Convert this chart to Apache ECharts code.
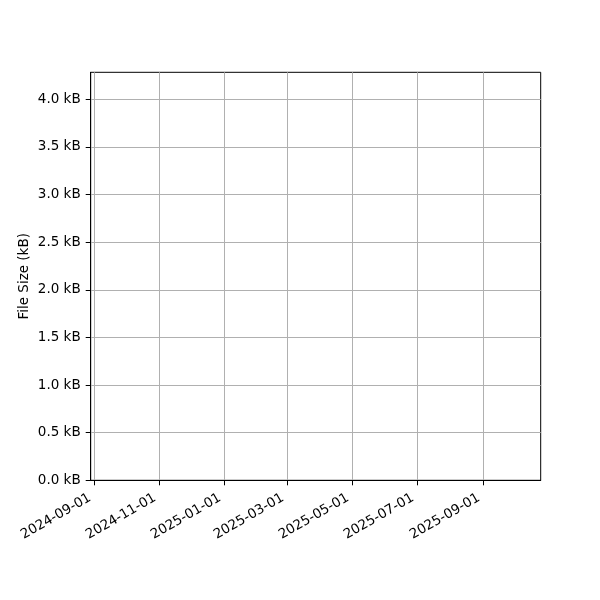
<!DOCTYPE html>
<html>
<head>
<meta charset="utf-8">
<script src="https://cdn.jsdelivr.net/npm/echarts@6/dist/echarts.min.js"></script>
<style>html,body{margin:0;padding:0;background:#fff}#c{width:600px;height:600px}</style>
</head>
<body>
<div id="c"></div>
<script>
// Data (the reference plot shows no marks)
const dates = [];
const fileSizesKB = [];
// Axis ticks
const xTickLabels = ['2024-09-01','2024-11-01','2025-01-01','2025-03-01','2025-05-01','2025-07-01','2025-09-01'];
const yTickValues = [0, 0.5, 1.0, 1.5, 2.0, 2.5, 3.0, 3.5, 4.0];
const xRange = ['2024-08-28T14:00:00Z', '2025-10-24T22:00:00Z'];
const yRange = [0, 4.283];

const toTs = s => Date.parse(s.length === 10 ? s + 'T00:00:00Z' : s);
const xTicks = xTickLabels.map(toTs);
const pad = n => (n < 10 ? '0' : '') + n;
const fmtDate = v => { const d = new Date(v); return d.getUTCFullYear() + '-' + pad(d.getUTCMonth() + 1) + '-' + pad(d.getUTCDate()); };

const font = 'DejaVu Sans';
const fs = 13.5;
const chart = echarts.init(document.getElementById('c'), null, {renderer: 'canvas'});
chart.setOption({
  animation: false,
  backgroundColor: '#fff',
  grid: {left: 90.7, top: 72.3, right: 59.3, bottom: 119.7, show: true, borderColor: '#000', borderWidth: 1, backgroundColor: 'transparent', outerBoundsMode: 'none', containLabel: false},
  xAxis: {
    type: 'value', min: toTs(xRange[0]), max: toTs(xRange[1]),
    axisLine: {show: true, onZero: false, lineStyle: {color: '#000', width: 1}},
    axisTick: {show: true, length: 5, customValues: xTicks, lineStyle: {color: '#000', width: 1}},
    axisLabel: {customValues: xTicks, rotate: 30, margin: 14, padding: [0, 5, 0, 0], color: '#000', fontFamily: font, fontSize: fs, formatter: v => fmtDate(v), hideOverlap: false},
    splitLine: {show: true, lineStyle: {color: '#b0b0b0', width: 1}}
  },
  yAxis: {
    type: 'value', min: yRange[0], max: yRange[1],
    name: 'File Size (kB)', nameLocation: 'middle', nameGap: 59, nameRotate: 90, nameMoveOverlap: false,
    nameTextStyle: {color: '#000', fontFamily: font, fontSize: fs},
    axisLine: {show: true, lineStyle: {color: '#000', width: 1}},
    axisTick: {show: true, length: 5, customValues: yTickValues, lineStyle: {color: '#000', width: 1}},
    axisLabel: {customValues: yTickValues, margin: 10, color: '#000', fontFamily: font, fontSize: fs, formatter: v => v.toFixed(1) + ' kB'},
    splitLine: {show: true, lineStyle: {color: '#b0b0b0', width: 1}}
  },
  series: [{
    type: 'line', name: 'File Size',
    data: dates.map((d, i) => [toTs(d), fileSizesKB[i]]),
    showSymbol: false, lineStyle: {color: '#1f77b4', width: 1.5}
  }]
});
</script>
</body>
</html>
